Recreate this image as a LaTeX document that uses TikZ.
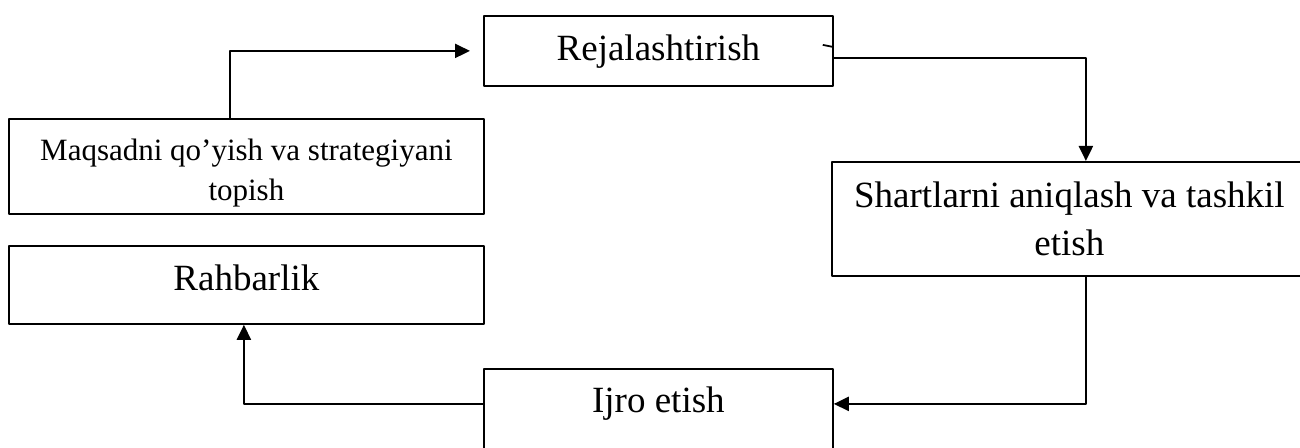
\documentclass[tikz,border=0pt]{standalone}
\usepackage{fontspec}
\setmainfont{Liberation Serif}
\usetikzlibrary{arrows.meta}
\begin{document}
\begin{tikzpicture}[x=0.5pt, y=-0.5pt, line join=round, >={Triangle[length=7.5pt,width=7pt]}]
			\tikzset{box/.style={draw, line width=0.9pt, rectangle, anchor=north west, inner sep=0pt, align=center, font=\fontsize{18.5}{24}\selectfont},
				link/.style={line width=1.1pt}}
			\def\wide{237.5pt}\def\narrow{174.5pt}
			\useasboundingbox (0,0) rectangle (1300,448);
			\clip (0,0) rectangle (1300,448);
			% boxes
			\node[box, minimum width=\narrow, text height=22.5pt, text depth=12.5pt] (rej) at (483,15) {Rejalashtirish};
			\node[box, minimum width=\wide, text height=41pt, text depth=6.5pt, font=\fontsize{15.5}{20}\selectfont] (maq) at (8,118) {Maqsadni qo’yish va strategiyani\\topish};
			\node[box, minimum width=\wide, text height=47pt, text depth=10pt] (shart) at (831,161) {Shartlarni aniqlash va tashkil\\etish};
			\node[box, minimum width=\wide, text height=22.5pt, text depth=16.5pt] (rahb) at (8,245) {Rahbarlik};
			\node[box, minimum width=\narrow, text height=22pt, text depth=24pt] (ijro) at (483,368) {Ijro etish};
			% links
			\draw[link, ->, shorten >=6.5pt] ([xshift=-8.25pt]maq.north) |- (rej.west);
			\draw[link, ->] ([yshift=-3.5pt]rej.east) -| ([xshift=8.25pt]shart.north);
			\draw[link, ->] ([xshift=8.25pt]shart.south) |- ([yshift=5.5pt]ijro.east);
			\draw[link, ->] ([yshift=5.5pt]ijro.west) -| ([xshift=-1.25pt]rahb.south);
			\draw[line width=0.9pt] ([shift={(-5.5pt,3pt)}]rej.east) -- ++(5pt,-1pt);
		\end{tikzpicture}
\end{document}
